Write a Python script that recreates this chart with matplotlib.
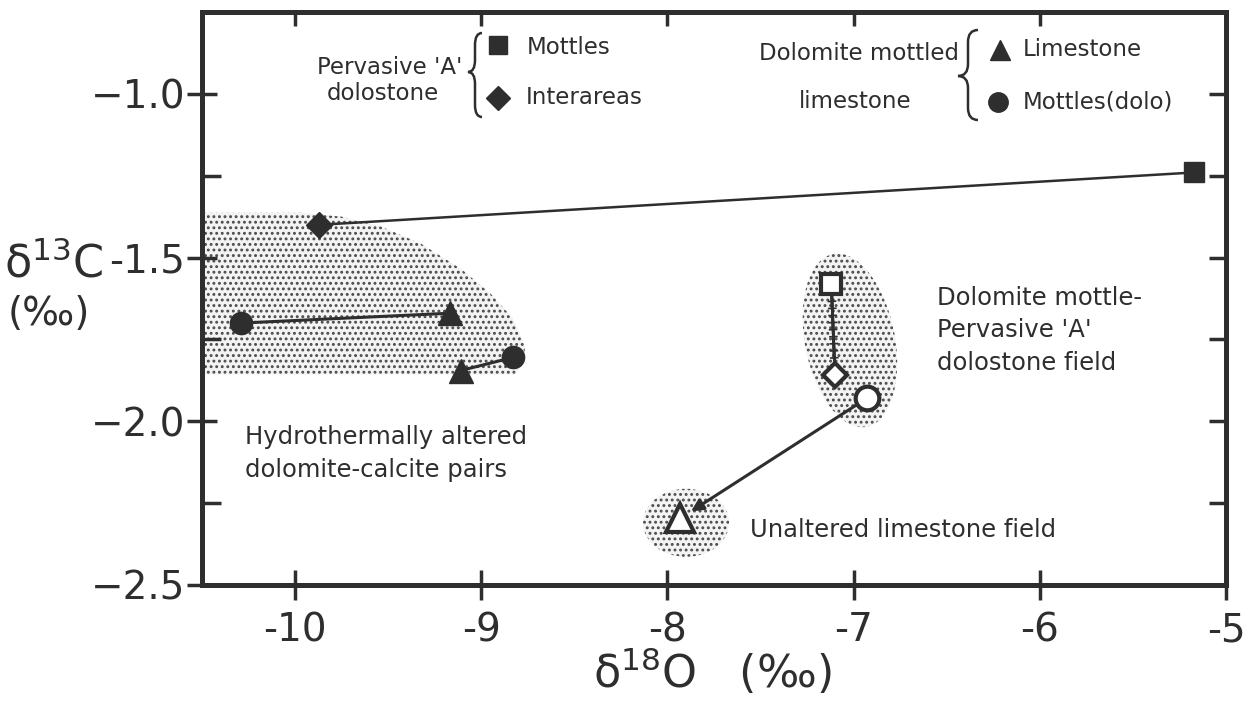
import numpy as np
import matplotlib
matplotlib.use("Agg")
import matplotlib.pyplot as plt
from matplotlib.patches import Ellipse, Polygon, PathPatch
from matplotlib.path import Path
from matplotlib.transforms import Affine2D, ScaledTranslation
import matplotlib.patheffects as pe

INK = "#2e2e2e"
plt.rcParams["font.family"] = ["DejaVu Sans"]
plt.rcParams["hatch.linewidth"] = 1.3

# ---- data -------------------------------------------------------------
# Pervasive 'A' dolostone: mottles and interareas (filled symbols)
pa_mottle_d18o = [-5.17]
pa_mottle_d13c = [-1.24]
pa_inter_d18o = [-9.87]
pa_inter_d13c = [-1.40]

# Hydrothermally altered dolomite-calcite pairs
ht_dolo_d18o = [-10.29, -8.83]
ht_dolo_d13c = [-1.70, -1.805]
ht_lime_d18o = [-9.17, -9.11]
ht_lime_d13c = [-1.67, -1.845]

# Field averages (open symbols)
field_mottle_d18o, field_mottle_d13c = -7.12, -1.58
field_inter_d18o, field_inter_d13c = -7.10, -1.86
field_dolo_d18o, field_dolo_d13c = -6.93, -1.93
field_lime_d18o, field_lime_d13c = -7.93, -2.296

x_ticks = [-10, -9, -8, -7, -6, -5]
x_tick_labels = ["-10", "-9", "-8", "-7", "-6", "-5"]
y_ticks = [-2.5, -2.0, -1.5, -1.0]
y_tick_labels = ["\u22122.5", "\u22122.0", "-1.5", "\u22121.0"]
y_minor_ticks = [-2.25, -1.75, -1.25]

# outline of the hydrothermally altered field (d18O, d13C)
ht_field_d18o = [-10.7, -9.97, -9.75, -9.54, -9.325, -9.11, -8.95, -8.83,
                 -8.765, -8.77, -8.82, -10.7]
ht_field_d13c = [-1.363, -1.363, -1.375, -1.405, -1.457, -1.534, -1.61,
                 -1.686, -1.768, -1.82, -1.857, -1.857]

# ---- figure -----------------------------------------------------------
W, H = 1247, 715
fig = plt.figure(figsize=(W / 100, H / 100), dpi=100)
ax = fig.add_axes([202 / W, 1 - 585 / H, 1024 / W, 573 / H])
# helper transform: pixel positions measured from the top-left corner
px = Affine2D().scale(1 / W, -1 / H).translate(0, 1) + fig.transFigure

ax.set_xlim(-10.5, -5.0)
ax.set_ylim(-2.5, -0.75)

stipple = dict(facecolor="#f3f3f3", edgecolor="#4a4a4a", hatch="...",
               linewidth=0, zorder=1)

ax.add_patch(Polygon(np.column_stack([ht_field_d18o, ht_field_d13c]),
                     closed=True, **stipple))


def pixel_ellipse(cx, cy, w, h, angle):
    return Ellipse((0, 0), w, h, angle=angle,
                   transform=ScaledTranslation(cx, cy, ax.transData), **stipple)


ax.add_patch(pixel_ellipse(-7.02, -1.753, 90, 176, 11))
ax.add_patch(pixel_ellipse(-7.90, -2.31, 86, 68, 0))

# pervasive 'A' interarea -> mottle
ax.plot(pa_inter_d18o + pa_mottle_d18o, pa_inter_d13c + pa_mottle_d13c,
        color=INK, lw=1.8, zorder=3)
ax.plot(pa_mottle_d18o, pa_mottle_d13c, "s", color=INK, ms=15, zorder=4)
ax.plot(pa_inter_d18o, pa_inter_d13c, "D", color=INK, ms=13, zorder=4)

# hydrothermal pairs
for xd, yd, xl, yl in zip(ht_dolo_d18o, ht_dolo_d13c, ht_lime_d18o, ht_lime_d13c):
    ax.plot([xd, xl], [yd, yl], color=INK, lw=2.2, zorder=3)
ax.plot(ht_dolo_d18o, ht_dolo_d13c, "o", color=INK, ms=16, zorder=4)
ax.plot(ht_lime_d18o, ht_lime_d13c, "^", color=INK, ms=17, zorder=4)

# field averages
tick_fx = [pe.withTickedStroke(angle=90, spacing=5, length=0.5, linewidth=1.2),
           pe.withTickedStroke(angle=-90, spacing=5, length=0.5, linewidth=1.2),
           pe.Normal()]
ax.plot([field_mottle_d18o, field_inter_d18o], [field_mottle_d13c, field_inter_d13c],
        color=INK, lw=2.0, zorder=3, path_effects=tick_fx)
ax.annotate("", xy=(field_lime_d18o, field_lime_d13c),
            xytext=(field_dolo_d18o, field_dolo_d13c),
            arrowprops=dict(arrowstyle="-|>", color=INK, lw=2.2,
                            mutation_scale=18, shrinkA=9, shrinkB=9),
            zorder=3)
open_kw = dict(mfc="white", mec=INK, mew=3, color=INK, zorder=4)
ax.plot(field_mottle_d18o, field_mottle_d13c, "s", ms=14, **open_kw)
ax.plot(field_inter_d18o, field_inter_d13c, "D", ms=12, **open_kw)
ax.plot(field_dolo_d18o, field_dolo_d13c, "o", ms=17, **open_kw)
ax.plot(field_lime_d18o, field_lime_d13c, "^", ms=20, **open_kw)

# ---- frame and ticks --------------------------------------------------
for s in ax.spines.values():
    s.set_linewidth(3.6)
    s.set_color(INK)
ax.set_xticks(x_ticks, labels=x_tick_labels)
ax.set_yticks(y_ticks, labels=y_tick_labels)
ax.set_yticks(y_minor_ticks, minor=True)
ax.tick_params(axis="both", which="major", direction="inout", length=22,
               width=2.5, color=INK, labelsize=28, labelcolor=INK)
ax.tick_params(axis="x", which="major", pad=8)
ax.tick_params(axis="y", which="major", pad=1)
ax.tick_params(axis="y", which="minor", direction="in", length=14,
               width=2.5, color=INK)

# inward ticks along the top and right edges
top = ax.secondary_xaxis("top")
top.set_xticks(x_ticks[:-1])
top.tick_params(direction="in", length=10, width=2.5, color=INK,
                labeltop=False)
top.spines["top"].set_visible(False)
right = ax.secondary_yaxis("right")
right.set_yticks(y_ticks[1:] + y_minor_ticks)
right.tick_params(direction="in", length=12, width=2.5, color=INK,
                  labelright=False)
right.spines["right"].set_visible(False)

# axis titles
fig.text(712 / W, 1 - 672 / H, "\u03b4$^{18}$O   (\u2030)", fontsize=32,
         color=INK, ha="center", va="center")
fig.text(4 / W, 1 - 264 / H, "\u03b4$^{13}$C", fontsize=32, color=INK,
         ha="left", va="center")
fig.text(8 / W, 1 - 314 / H, "(\u2030)", fontsize=28, color=INK,
         ha="left", va="center")


# ---- key --------------------------------------------------------------
def brace(x_tip, x_end, y_top, y_tip, y_bot):
    xm = (x_tip + x_end) / 2
    r1 = min(12, (y_tip - y_top) / 3)
    r2 = min(12, (y_bot - y_tip) / 3)
    verts = [(x_end, y_top), (xm, y_top), (xm, y_top + r1),
             (xm, y_tip - r1), (xm, y_tip), (x_tip, y_tip),
             (xm, y_tip), (xm, y_tip + r2),
             (xm, y_bot - r2), (xm, y_bot), (x_end, y_bot)]
    codes = [Path.MOVETO, Path.CURVE3, Path.CURVE3,
             Path.LINETO, Path.CURVE3, Path.CURVE3,
             Path.CURVE3, Path.CURVE3,
             Path.LINETO, Path.CURVE3, Path.CURVE3]
    fig.add_artist(PathPatch(Path(verts, codes), transform=px, fill=False,
                             edgecolor=INK, lw=1.8))


key_fs = 16.5
txt = dict(transform=px, fontsize=key_fs, color=INK, va="center")
fig.text(462, 68, "Pervasive 'A'", ha="right", **txt)
fig.text(383, 94, "dolostone", ha="center", **txt)
brace(468, 482, 33, 72, 117)
fig.add_artist(plt.Line2D([498], [45], marker="s", ms=13, color=INK, transform=px))
fig.add_artist(plt.Line2D([498], [98], marker="D", ms=12, color=INK, transform=px))
fig.text(527, 47, "Mottles", ha="left", **txt)
fig.text(526, 98, "Interareas", ha="left", **txt)

fig.text(859, 53, "Dolomite mottled", ha="center", **txt)
fig.text(855, 102, "limestone", ha="center", **txt)
brace(958, 978, 30, 76, 120)
fig.add_artist(plt.Line2D([1000], [50], marker="^", ms=14, color=INK, transform=px))
fig.add_artist(plt.Line2D([998], [102], marker="o", ms=14, color=INK, transform=px))
fig.text(1023, 50, "Limestone", ha="left", **txt)
fig.text(1023, 102, "Mottles(dolo)", ha="left", **txt)

# ---- field labels -----------------------------------------------------
fld = dict(txt, fontsize=17.5)
fig.text(245, 437, "Hydrothermally altered", ha="left", **fld)
fig.text(245, 470, "dolomite-calcite pairs", ha="left", **fld)
fig.text(937, 298, "Dolomite mottle-", ha="left", **fld)
fig.text(937, 330, "Pervasive 'A'", ha="left", **fld)
fig.text(937, 363, "dolostone field", ha="left", **fld)
fig.text(750, 530, "Unaltered limestone field", ha="left", **fld)

fig.savefig("out.png", dpi=100, facecolor="white")
